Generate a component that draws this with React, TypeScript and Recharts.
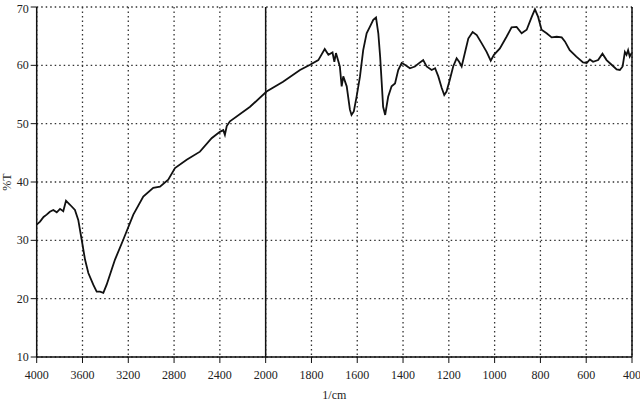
import { LineChart, Line, XAxis, YAxis, CartesianGrid, ReferenceLine } from "recharts";

// wavenumber (1/cm) and transmittance (%T)
const wavenumbers = [
  4000, 3971, 3940, 3913, 3885, 3855, 3825, 3796, 3768, 3744, 3709, 3666, 3637, 3607, 3578, 3549,
  3506, 3476, 3447, 3418, 3389, 3345, 3316, 3244, 3156, 3069, 2982, 2923, 2851, 2792, 2690, 2574,
  2472, 2400, 2370, 2356, 2340, 2312, 2136, 1996, 1924, 1850, 1806, 1770, 1742, 1726, 1708, 1700,
  1693, 1676, 1668, 1661, 1646, 1632, 1625, 1615, 1603, 1588, 1574, 1559, 1545, 1530, 1518, 1508,
  1500, 1493, 1487, 1478, 1465, 1450, 1435, 1421, 1406, 1392, 1370, 1348, 1326, 1312, 1297, 1275,
  1260, 1246, 1231, 1220, 1210, 1196, 1181, 1166, 1155, 1144, 1130, 1115, 1096, 1078, 1057, 1035,
  1017, 1003, 977, 948, 926, 904, 882, 860, 838, 824, 810, 795, 773, 751, 729, 707, 693, 672, 643,
  614, 598, 584, 570, 548, 529, 511, 489, 467, 453, 441, 431, 424, 417, 410, 402,
];

const transmittance = [
  32.7, 33.2, 34.0, 34.4, 34.9, 35.2, 34.8, 35.4, 35.0, 36.8, 36.1, 35.2, 33.5, 30.1, 26.7, 24.4,
  22.4, 21.2, 21.2, 21.0, 22.4, 25.0, 26.7, 30.1, 34.4, 37.5, 39.0, 39.2, 40.4, 42.4, 43.8, 45.2,
  47.5, 48.6, 48.9, 48.1, 49.6, 50.4, 52.9, 55.5, 57.2, 59.2, 60.1, 60.9, 62.8, 61.8, 62.2, 60.6,
  62.1, 59.8, 56.4, 58.1, 56.4, 52.4, 51.5, 52.1, 54.6, 58.1, 62.6, 65.5, 66.6, 67.8, 68.2, 65.5,
  61.5, 56.9, 52.9, 51.5, 54.6, 56.4, 56.9, 59.2, 60.4, 60.1, 59.5, 59.8, 60.5, 60.9, 59.8, 59.2,
  59.5, 58.1, 56.1, 54.9, 55.5, 57.5, 59.8, 61.2, 60.6, 59.8, 62.1, 64.6, 65.7, 65.2, 63.8, 62.3,
  60.8, 61.8, 62.9, 64.9, 66.5, 66.6, 65.5, 66.1, 68.3, 69.6, 68.3, 66.1, 65.5, 64.8, 64.9, 64.8,
  64.1, 62.6, 61.5, 60.5, 60.4, 61.0, 60.6, 60.9, 62.0, 60.9, 60.1, 59.3, 59.2, 59.8, 62.3, 61.8,
  62.6, 61.5, 62.1,
];

const xTickLabels = [
  "4000", "3600", "3200", "2800", "2400", "2000", "1800", "1600", "1400", "1200", "1000", "800", "600", "400",
];

const yTicks = [10, 20, 30, 40, 50, 60, 70];

// the instrument changes scale at 2000: 400/div above, 200/div below
const toPos = (wn: number) => (wn >= 2000 ? (4000 - wn) / 400 : 5 + (2000 - wn) / 200);

const data = wavenumbers.map((wn, i) => ({ pos: toPos(wn), t: transmittance[i] }));
const xTicks = xTickLabels.map((_, i) => i);

const FONT = "'Liberation Serif', 'Times New Roman', serif";
const textStyle = { fontSize: 12, fill: "#222", fontFamily: FONT };

const XTick = ({ x, y, payload }: any) => (
  <text x={x} y={y + 12} textAnchor="middle" fontSize={12} fill="#222" fontFamily={FONT}>
    {xTickLabels[payload.value]}
  </text>
);

const YTick = ({ x, y, payload }: any) => (
  <text x={x} y={y + 4} textAnchor="end" fontSize={12} fill="#222" fontFamily={FONT}>
    {payload.value}
  </text>
);

export default function App() {
  return (
    <div style={{ position: "absolute", left: 0, top: 0, width: 640, height: 404, background: "#fff" }}>
      <LineChart width={640} height={404} data={data} margin={{ top: 7, right: 8, left: 6.7, bottom: 0 }}>
        <CartesianGrid stroke="#333" strokeDasharray="1.5 3" strokeWidth={1.3} />
        <XAxis
          dataKey="pos"
          type="number"
          domain={[0, 13]}
          ticks={xTicks}
          height={47}
          tick={XTick}
          tickMargin={4}
          axisLine={{ stroke: "#111", strokeWidth: 1.5 }}
          tickLine={{ stroke: "#111" }}
          label={{ value: "1/cm", position: "insideBottom", offset: 5, style: textStyle }}
        />
        <YAxis
          type="number"
          domain={[10, 70]}
          ticks={yTicks}
          width={30}
          tick={YTick}
          axisLine={{ stroke: "#111", strokeWidth: 1.5 }}
          tickLine={{ stroke: "#111" }}
          label={{ value: "%T", angle: -90, position: "insideLeft", offset: 0, style: { ...textStyle, textAnchor: "middle" } }}
        />
        <ReferenceLine x={5} stroke="#111" strokeWidth={1.5} />
        <ReferenceLine x={13} stroke="#111" strokeWidth={1.5} />
        <Line
          type="linear"
          dataKey="t"
          stroke="#111"
          strokeWidth={1.8}
          dot={false}
          isAnimationActive={false}
        />
      </LineChart>
    </div>
  );
}
